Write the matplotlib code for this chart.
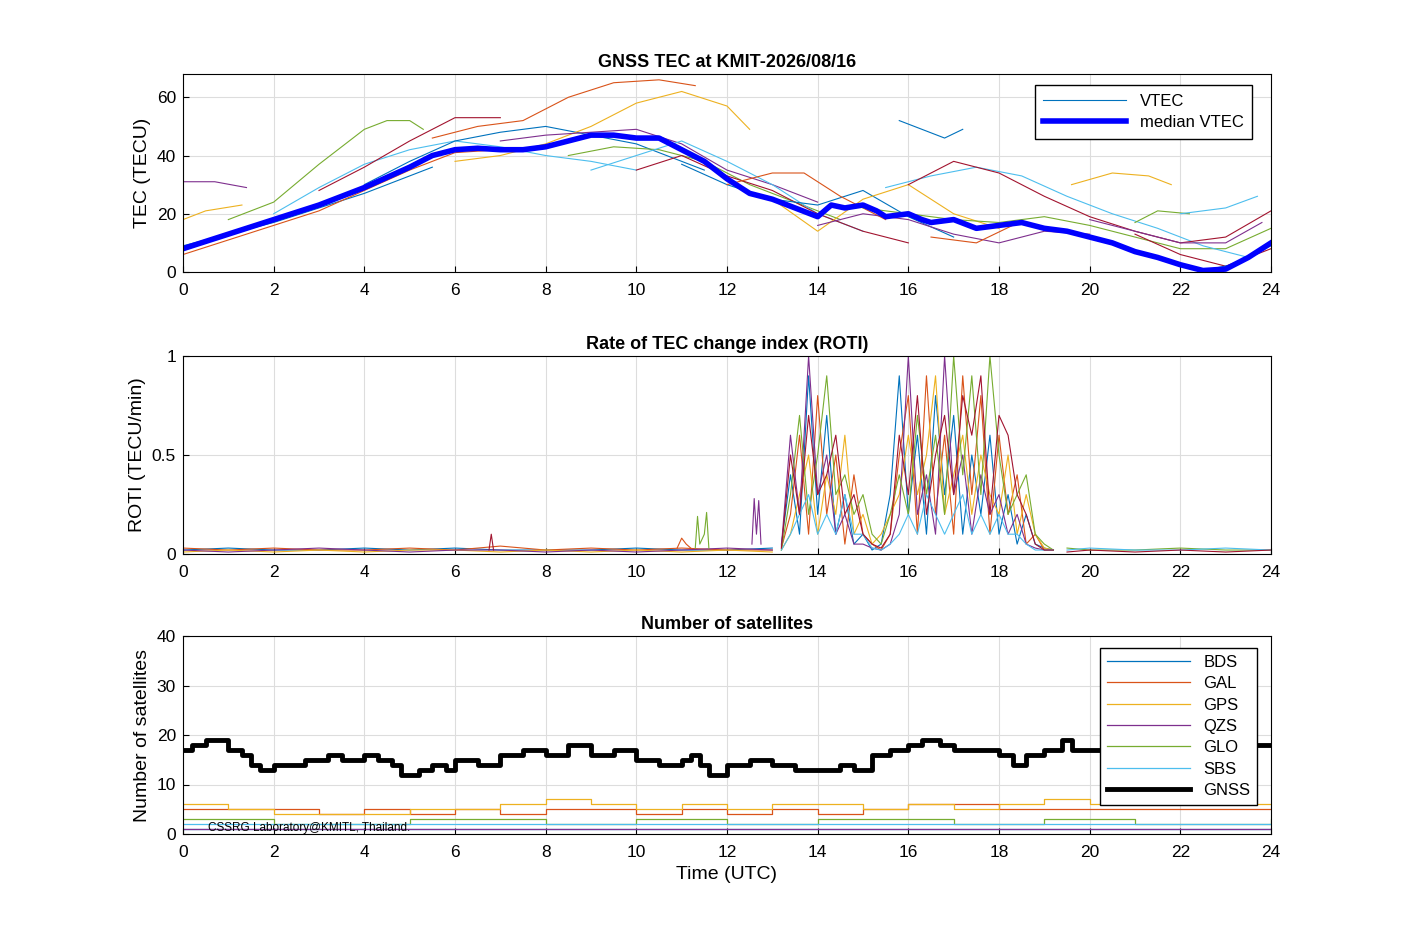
import matplotlib
matplotlib.use("Agg")
import matplotlib.pyplot as plt
import numpy as np

C = ['#0072BD', '#D95319', '#EDB120', '#7E2F8E', '#77AC30', '#4DBEEE', '#A2142F']

# ---------------- TEC data ----------------
median_t = [0, 0.5, 1, 1.5, 2, 2.5, 3, 3.5, 4, 4.5, 5, 5.5, 6, 6.5, 7, 7.5, 8, 8.5, 9, 9.5, 10, 10.5, 11, 11.5, 12, 12.5, 13, 13.5, 14, 14.3, 14.6, 15, 15.3, 15.5, 16, 16.3, 16.5, 17, 17.5, 18, 18.5, 19, 19.5, 20, 20.5, 21, 21.5, 22, 22.5, 23, 23.5, 24]
median_v = [8, 10.5, 13, 15.5, 18, 20.5, 23, 26, 29, 32.5, 36, 40, 42, 42.5, 42, 42, 43, 45, 47, 47, 46, 46, 42, 38, 32, 27, 25, 22, 19, 23, 22, 23, 21, 19, 20, 18, 17, 18, 15, 16, 17, 15, 14, 12, 10, 7, 5, 2.5, 0.5, 1, 5, 10]

vtec_arcs = [
    ([0, 1, 2, 3, 4, 5, 5.5], [9, 13, 17, 22, 27, 33, 36]),
    ([0, 1, 2, 3, 4, 5, 6, 7], [6, 11, 16, 21, 28, 35, 41, 42]),
    ([0, 0.5, 1.3], [18, 21, 23]),
    ([0, 0.7, 1.4], [31, 31, 29]),
    ([1, 2, 3, 4, 4.5, 5, 5.3], [18, 24, 37, 49, 52, 52, 49]),
    ([2, 3, 4, 5, 6, 7, 8, 9, 10], [20, 29, 37, 42, 45, 43, 40, 38, 35]),
    ([3, 4, 5, 5.5, 6, 7], [28, 36, 45, 49, 53, 53]),
    ([4, 5, 6, 7, 8, 9, 10, 11, 11.5], [30, 38, 45, 48, 50, 47, 44, 38, 35]),
    ([5.5, 6.5, 7.5, 8.5, 9.5, 10.5, 11.3], [46, 50, 52, 60, 65, 66, 64]),
    ([6, 7, 8, 9, 10, 11, 12, 12.5], [38, 40, 44, 50, 58, 62, 57, 49]),
    ([7, 8, 9, 10, 11, 12, 13, 14], [45, 47, 48, 49, 44, 35, 30, 24]),
    ([8.5, 9.5, 10.5, 11.5, 12.5, 13.5, 14.5], [40, 43, 42, 38, 30, 24, 18]),
    ([9, 10, 11, 12, 13, 14, 15], [35, 40, 45, 38, 30, 20, 14]),
    ([10, 11, 12, 13, 14, 15, 16], [35, 40, 33, 28, 20, 14, 10]),
    ([11, 12, 13, 14, 15, 16, 17], [37, 30, 25, 23, 28, 19, 12]),
    ([12, 13, 13.7, 14.5, 15.5], [30, 34, 34, 26, 18]),
    ([13, 14, 15, 16, 17, 18], [25, 14, 25, 30, 20, 15]),
    ([14, 15, 16, 17, 18, 19, 20], [16, 20, 18, 13, 10, 14, 13]),
    ([15, 16, 17, 18, 19, 20, 21, 22, 23, 24], [22, 20, 18, 17, 19, 16, 12, 8, 8, 15]),
    ([15.5, 16.5, 17.5, 18.5, 19.5, 20.5, 21.5, 22.5, 23.5, 24], [29, 33, 36, 33, 26, 20, 15, 9, 5, 9]),
    ([16, 17, 18, 19, 20, 21, 22, 23, 24], [30, 38, 34, 26, 19, 14, 10, 12, 21]),
    ([15.8, 16.3, 16.8, 17.2], [52, 49, 46, 49]),
    ([16.5, 17.5, 18.3], [12, 10, 16]),
    ([19.6, 20.5, 21.3, 21.8], [30, 34, 33, 30]),
    ([20, 21, 22, 23, 23.8], [18, 14, 10, 10, 17]),
    ([21, 21.5, 22.2], [17, 21, 20]),
    ([22, 22.5, 23, 23.7], [20, 21, 22, 26]),
    ([21, 22, 23, 24], [13, 6, 2, 8]),
    ([22.5, 23.3, 24], [0.5, 3, 10]),
]

# ---------------- ROTI data ----------------
roti_quiet_t = [0, 1, 2, 3, 4, 5, 6, 7, 8, 9, 10, 11, 12, 13]
roti_quiet = [
    [0.02, 0.03, 0.02, 0.02, 0.03, 0.02, 0.03, 0.02, 0.02, 0.02, 0.03, 0.02, 0.02, 0.03],
    [0.03, 0.02, 0.03, 0.02, 0.02, 0.03, 0.02, 0.04, 0.02, 0.03, 0.02, 0.03, 0.02, 0.02],
    [0.01, 0.02, 0.01, 0.02, 0.01, 0.02, 0.02, 0.01, 0.02, 0.01, 0.02, 0.01, 0.02, 0.01],
    [0.02, 0.01, 0.02, 0.03, 0.02, 0.01, 0.02, 0.02, 0.01, 0.02, 0.01, 0.02, 0.03, 0.02],
]
roti_late_t = [19.5, 20, 21, 22, 23, 24]
roti_late = [
    [0.03, 0.02, 0.02, 0.03, 0.02, 0.02],
    [0.02, 0.03, 0.02, 0.02, 0.03, 0.02],
    [0.01, 0.02, 0.01, 0.02, 0.01, 0.02],
]
roti_spike_t = [
    [10.9, 11.0, 11.1, 11.2],
    [11.3, 11.35, 11.4, 11.5, 11.55, 11.6],
    [12.55, 12.6, 12.65, 12.7, 12.75],
    [6.75, 6.8, 6.85],
]
roti_spike_v = [
    [0.03, 0.08, 0.05, 0.03],
    [0.03, 0.19, 0.05, 0.1, 0.21, 0.03],
    [0.05, 0.28, 0.1, 0.27, 0.05],
    [0.02, 0.1, 0.02],
]
roti_active_t = [13.2, 13.4, 13.6, 13.8, 14.0, 14.2, 14.4, 14.6, 14.8, 15.0, 15.2, 15.4, 15.6, 15.8, 16.0,
                 16.2, 16.4, 16.6, 16.8, 17.0, 17.2, 17.4, 17.6, 17.8, 18.0, 18.2, 18.4, 18.6, 18.8, 19.0, 19.2]
roti_active = [
    [0.05, 0.4, 0.1, 0.9, 0.2, 0.7, 0.1, 0.3, 0.05, 0.1, 0.02, 0.05, 0.3, 0.9, 0.2, 0.6, 0.1, 0.8, 0.3, 0.7, 0.1, 0.5, 0.2, 0.6, 0.1, 0.3, 0.05, 0.2, 0.05, 0.03, 0.02],
    [0.03, 0.2, 0.6, 0.1, 0.8, 0.2, 0.5, 0.05, 0.4, 0.1, 0.05, 0.02, 0.1, 0.5, 0.8, 0.1, 0.9, 0.2, 0.6, 0.1, 0.9, 0.3, 0.8, 0.1, 0.6, 0.2, 0.4, 0.05, 0.1, 0.02, 0.02],
    [0.02, 0.1, 0.3, 0.5, 0.1, 0.4, 0.2, 0.6, 0.1, 0.2, 0.05, 0.1, 0.2, 0.3, 0.6, 0.3, 0.5, 0.9, 0.2, 0.4, 0.6, 0.2, 0.5, 0.3, 0.2, 0.5, 0.1, 0.3, 0.1, 0.03, 0.02],
    [0.04, 0.6, 0.2, 1.0, 0.3, 0.5, 0.1, 0.2, 0.05, 0.05, 0.03, 0.02, 0.05, 0.2, 1.0, 0.2, 0.4, 0.1, 1.0, 0.3, 0.5, 0.1, 0.4, 0.2, 0.3, 0.1, 0.2, 0.05, 0.03, 0.02, 0.02],
    [0.02, 0.3, 0.7, 0.2, 0.5, 0.9, 0.3, 0.4, 0.2, 0.3, 0.1, 0.05, 0.2, 0.4, 0.2, 0.7, 0.3, 0.6, 0.2, 1.0, 0.4, 0.9, 0.3, 1.0, 0.5, 0.2, 0.3, 0.4, 0.1, 0.05, 0.02],
    [0.02, 0.1, 0.2, 0.3, 0.1, 0.2, 0.1, 0.3, 0.1, 0.1, 0.03, 0.02, 0.05, 0.1, 0.2, 0.1, 0.3, 0.2, 0.1, 0.2, 0.3, 0.1, 0.2, 0.1, 0.2, 0.1, 0.1, 0.05, 0.02, 0.02, 0.02],
    [0.03, 0.5, 0.2, 0.7, 0.3, 0.4, 0.6, 0.2, 0.3, 0.1, 0.05, 0.03, 0.1, 0.6, 0.3, 0.8, 0.2, 0.5, 0.7, 0.3, 0.8, 0.6, 0.9, 0.2, 0.7, 0.6, 0.3, 0.2, 0.05, 0.02, 0.02],
]

# ---------------- Satellite counts ----------------
gnss_t = [0, 0.2, 0.5, 1.0, 1.3, 1.5, 1.7, 2.0, 2.3, 2.7, 3.0, 3.2, 3.5, 4.0, 4.3, 4.6, 4.8, 5.2, 5.5, 5.8, 6.0, 6.5, 7.0, 7.5, 8.0, 8.5, 9.0, 9.5, 10.0, 10.5, 11.0, 11.2, 11.4, 11.6, 12.0, 12.5, 13.0, 13.5, 14.0, 14.5, 14.8, 15.2, 15.6, 16.0, 16.3, 16.7, 17.0, 17.5, 18.0, 18.3, 18.6, 19.0, 19.4, 19.6, 20.0, 20.5, 21.0, 21.5, 22.0, 22.5, 23.0, 23.5, 24]
gnss_v = [17, 18, 19, 17, 16, 14, 13, 14, 14, 15, 15, 16, 15, 16, 15, 14, 12, 13, 14, 13, 15, 14, 16, 17, 16, 18, 16, 17, 15, 14, 15, 16, 14, 12, 14, 15, 14, 13, 13, 14, 13, 16, 17, 18, 19, 18, 17, 17, 16, 14, 16, 17, 19, 17, 17, 17, 17, 17, 17, 18, 17, 18, 18]
sys_t = [0, 1, 2, 3, 4, 5, 6, 7, 8, 9, 10, 11, 12, 13, 14, 15, 16, 17, 18, 19, 20, 21, 22, 23, 24]
bds_v = [1, 1, 1, 1, 1, 1, 1, 1, 1, 1, 1, 1, 1, 1, 1, 1, 1, 1, 1, 1, 1, 1, 1, 1, 1]
gal_v = [5, 5, 5, 4, 5, 4, 5, 4, 5, 5, 4, 5, 4, 5, 4, 5, 6, 6, 5, 5, 5, 5, 5, 5, 5]
gps_v = [6, 5, 4, 4, 4, 5, 5, 6, 7, 6, 5, 6, 5, 6, 6, 5, 6, 5, 6, 7, 6, 6, 7, 6, 6]
qzs_v = [1, 1, 1, 1, 1, 1, 1, 1, 1, 1, 1, 1, 1, 1, 1, 1, 1, 1, 1, 1, 1, 1, 1, 1, 1]
glo_v = [3, 3, 2, 2, 2, 3, 3, 3, 2, 2, 3, 3, 2, 2, 3, 3, 3, 2, 2, 3, 3, 2, 2, 2, 3]
sbs_v = [2, 2, 2, 2, 2, 2, 2, 2, 2, 2, 2, 2, 2, 2, 2, 2, 2, 2, 2, 2, 2, 2, 2, 2, 2]

plt.rcParams['font.family'] = ['Liberation Sans', 'DejaVu Sans']
fig = plt.figure(figsize=(14.06, 9.38), dpi=100)
W, H = 1406, 938
def add_ax(y0, y1):
    return fig.add_axes([183 / W, 1 - y1 / H, (1271 - 183) / W, (y1 - y0) / H])

ax1 = add_ax(74, 272)
ax2 = add_ax(356, 554)
ax3 = add_ax(636, 834)

for ax in (ax1, ax2, ax3):
    ax.grid(True, color='#dddddd', linewidth=0.8)
    ax.set_axisbelow(True)
    ax.set_xlim(0, 24)
    ax.set_xticks(range(0, 25, 2))
    ax.tick_params(labelsize=12.5, direction='in', length=4, pad=8)
    ax.tick_params(axis='y', pad=5)
    for s in ax.spines.values():
        s.set_linewidth(0.8)

# top
for i, (t, v) in enumerate(vtec_arcs):
    ax1.plot(t, v, color=C[i % 7], linewidth=0.8, label='VTEC' if i == 0 else None)
ax1.plot(median_t, median_v, color='#0000FF', linewidth=4, label='median VTEC')
ax1.set_ylim(0, 68)
ax1.set_yticks([0, 20, 40, 60])
ax1.set_ylabel('TEC (TECU)', fontsize=14)
ax1.set_title('GNSS TEC at KMIT-2026/08/16', fontsize=13, fontweight='bold', pad=5)
ax1.legend(loc='upper right', fontsize=12, fancybox=False, edgecolor='black', handlelength=5,
           borderpad=0.5, labelspacing=0.4, bbox_to_anchor=(0.99, 0.985), framealpha=1)

# middle
k = 0
for v in roti_quiet:
    ax2.plot(roti_quiet_t, v, color=C[k % 7], linewidth=0.8); k += 1
for v in roti_late:
    ax2.plot(roti_late_t, v, color=C[k % 7], linewidth=0.8); k += 1
for t, v, c in zip(roti_spike_t, roti_spike_v, [C[1], C[4], C[3], C[6]]):
    ax2.plot(t, v, color=c, linewidth=0.8)
for i, v in enumerate(roti_active):
    ax2.plot(roti_active_t, v, color=C[i % 7], linewidth=0.8)
ax2.set_ylim(0, 1)
ax2.set_yticks([0, 0.5, 1])
ax2.set_yticklabels(['0', '0.5', '1'])
ax2.set_ylabel('ROTI (TECU/min)', fontsize=14)
ax2.set_title('Rate of TEC change index (ROTI)', fontsize=13, fontweight='bold', pad=5)

# bottom
for v, c, lab in [(bds_v, C[0], 'BDS'), (gal_v, C[1], 'GAL'), (gps_v, C[2], 'GPS'),
                  (qzs_v, C[3], 'QZS'), (glo_v, C[4], 'GLO'), (sbs_v, C[5], 'SBS')]:
    ax3.step(sys_t, v, where='post', color=c, linewidth=0.9, label=lab)
ax3.step(gnss_t, gnss_v, where='post', color='black', linewidth=3.5, label='GNSS')
ax3.set_ylim(0, 40)
ax3.set_yticks([0, 10, 20, 30, 40])
ax3.set_ylabel('Number of satellites', fontsize=14)
ax3.set_xlabel('Time (UTC)', fontsize=14)
ax3.set_title('Number of satellites', fontsize=13, fontweight='bold', pad=5)
ax3.legend(loc='upper right', fontsize=12, fancybox=False, edgecolor='black', handlelength=5,
           labelspacing=0.38, borderpad=0.4, bbox_to_anchor=(0.995, 0.98), framealpha=1)
ax3.text(0.55, 0.0, 'CSSRG Laboratory@KMITL, Thailand.', fontsize=8.5, va='bottom')

fig.savefig('out.png', dpi=100)
